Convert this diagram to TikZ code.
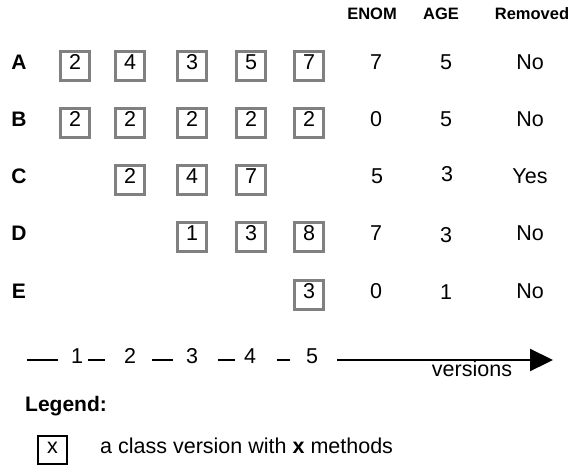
\documentclass[tikz,border=0pt]{standalone}
\usepackage{fontspec}
\setmainfont{Liberation Sans}
\usetikzlibrary{arrows.meta,positioning}

\begin{document}
\begin{tikzpicture}[x=1pt, y=-1pt,
  txt/.style={font=\fontsize{21.5}{25}\selectfont, text height=0.716em, text depth=0pt, inner sep=0pt},
  hdr/.style={font=\fontsize{16.5}{19}\selectfont\bfseries, text height=0.716em, text depth=0pt, inner sep=0pt},
  rowlbl/.style={txt, font=\fontsize{21}{25}\selectfont\bfseries},
  verbox/.style={draw=gray, line width=2.5pt, minimum size=29pt, txt},
  tick/.style={line width=2.2pt},
  axis/.style={line width=2.2pt, -{Triangle[length=23pt, width=22pt]}}]
\useasboundingbox (0,0) rectangle (585,466);

% Column headers
\node[hdr] (hENOM) at (372,16) {ENOM};
\node[hdr] (hAGE) at (441,16) {AGE};
\node[hdr] (hRem) at (532,16) {Removed};

% Class A
\node[rowlbl] (rA) at (19,66) {A};
\node[verbox] (A1) at (75,66) {2};
\node[verbox] (A2) at (130,66) {4};
\node[verbox] (A3) at (192,66) {3};
\node[verbox] (A4) at (251,66) {5};
\node[verbox] (A5) at (309,66) {7};
\node[txt] (eA) at (376,66) {7};
\node[txt] (aA) at (446,66) {5};
\node[txt] (xA) at (530,66) {No};

% Class B
\node[rowlbl] (rB) at (19,123) {B};
\node[verbox] (B1) at (75,123) {2};
\node[verbox] (B2) at (130,123) {2};
\node[verbox] (B3) at (192,123) {2};
\node[verbox] (B4) at (251,123) {2};
\node[verbox] (B5) at (309,123) {2};
\node[txt] (eB) at (376,123) {0};
\node[txt] (aB) at (446,123) {5};
\node[txt] (xB) at (530,123) {No};

% Class C
\node[rowlbl] (rC) at (19,180) {C};
\node[verbox] (C2) at (130,180) {2};
\node[verbox] (C3) at (192,180) {4};
\node[verbox] (C4) at (251,180) {7};
\node[txt] (eC) at (377,180) {5};
\node[txt] (aC) at (447,178) {3};
\node[txt] (xC) at (530,180) {Yes};

% Class D
\node[rowlbl] (rD) at (19,237) {D};
\node[verbox] (D3) at (192,237) {1};
\node[verbox] (D4) at (251,237) {3};
\node[verbox] (D5) at (309,237) {8};
\node[txt] (eD) at (376,237) {7};
\node[txt] (aD) at (446,239) {3};
\node[txt] (xD) at (530,237) {No};

% Class E
\node[rowlbl] (rE) at (19,295) {E};
\node[verbox] (E5) at (309,295) {3};
\node[txt] (eE) at (376,295) {0};
\node[txt] (aE) at (446,296) {1};
\node[txt] (xE) at (530,295) {No};

% Version axis
\node[txt] (v1) at (77,360) {1};
\node[txt] (v2) at (130,360) {2};
\node[txt] (v3) at (192,360) {3};
\node[txt] (v4) at (250,360) {4};
\node[txt] (v5) at (312,360) {5};
\foreach \a/\b in {27/58, 88/105, 152/173, 218/235, 277/290}
  \draw[tick] (\a,360) -- (\b,360);
\coordinate (axstart) at (337,360);
\coordinate (axend) at (553,360);
\draw[axis] (axstart) -- (axend);
\node[txt] (versions) at (472,373) {versions};

% Legend
\node[rowlbl, anchor=west] (legend) at (25,408) {Legend:};
\node[draw, line width=2pt, minimum width=29pt, minimum height=28pt, txt] (legbox) at (52.5,450) {x};
\node[txt, anchor=west] (legtext) at (100,450) {a class version with \textbf{x} methods};
\end{tikzpicture}
\end{document}
